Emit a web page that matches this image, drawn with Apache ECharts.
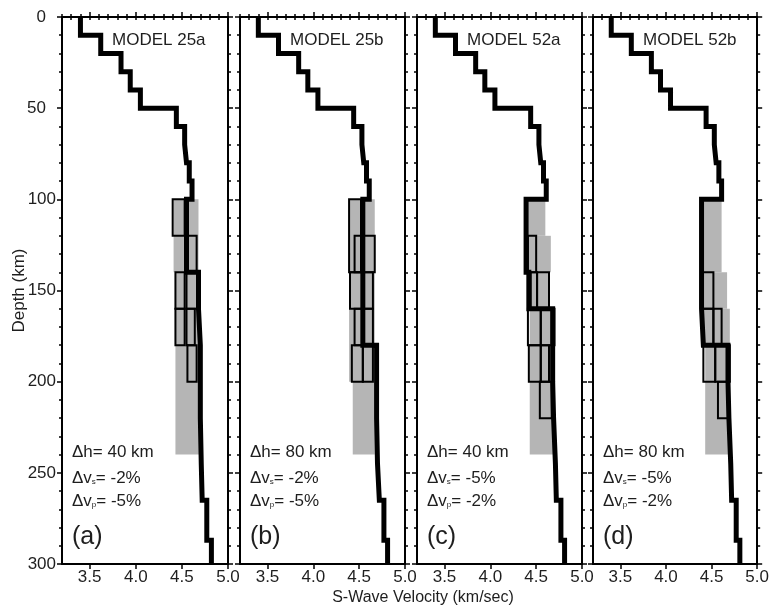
<!DOCTYPE html>
<html><head><meta charset="utf-8">
<script src="https://cdn.jsdelivr.net/npm/echarts@6/dist/echarts.min.js"></script>
<style>html,body{margin:0;padding:0;background:#fff}#c{width:772px;height:608px}</style>
</head><body><div id="c"></div>
<script>
// ---- data ----
const panelNames = ['MODEL 25a', 'MODEL 25b', 'MODEL 52a', 'MODEL 52b'];
const panelTags = ['(a)', '(b)', '(c)', '(d)'];
const dhText = ['40', '80', '40', '80'];
const dvsText = ['-2%', '-2%', '-5%', '-5%'];
const dvpText = ['-5%', '-5%', '-2%', '-2%'];
const xTickLabels = [3.5, 4.0, 4.5, 5.0];
// layer boundaries (km)
const layerDepths = [0, 10, 20, 30, 40, 50, 60, 70, 80, 90, 100, 120, 140, 160, 180, 200, 220, 245, 265, 287, 300];
// S velocity per layer (km/s)
const velA = [3.40, 3.62, 3.84, 3.94, 4.05, 4.44, 4.53, 4.55, 4.58, 4.61, 4.55, 4.55, 4.68, 4.70, 4.70, 4.70, 4.71, 4.72, 4.77, 4.82];
const velB = [3.40, 3.62, 3.84, 3.94, 4.05, 4.44, 4.53, 4.55, 4.58, 4.61, 4.54, 4.54, 4.54, 4.54, 4.69, 4.69, 4.70, 4.72, 4.77, 4.81];
const velC = [3.40, 3.62, 3.84, 3.94, 4.05, 4.44, 4.53, 4.55, 4.58, 4.61, 4.39, 4.39, 4.42, 4.68, 4.68, 4.69, 4.71, 4.72, 4.77, 4.81];
const velD = [3.40, 3.62, 3.84, 3.94, 4.05, 4.44, 4.53, 4.55, 4.58, 4.61, 4.39, 4.39, 4.39, 4.41, 4.68, 4.69, 4.71, 4.72, 4.77, 4.81];
// gray zones: [topDepth, bottomDepth, vMin, vMax]
const grayA = [[100, 140, 4.41, 4.68], [140, 160, 4.43, 4.68], [160, 240, 4.43, 4.70]];
const grayB = [[100, 200, 4.39, 4.67], [200, 240, 4.43, 4.67]];
const grayC = [[100, 120, 4.41, 4.60], [120, 140, 4.41, 4.66], [140, 160, 4.42, 4.64], [160, 240, 4.43, 4.69]];
const grayD = [[100, 140, 4.40, 4.61], [140, 160, 4.39, 4.67], [160, 180, 4.40, 4.70], [180, 240, 4.43, 4.68]];
// outlined blocks: [topDepth, bottomDepth, vMin, vMax]
const boxesA = [[100, 120, 4.40, 4.53], [120, 140, 4.56, 4.66], [140, 160, 4.43, 4.53], [140, 160, 4.55, 4.67],
                [160, 180, 4.43, 4.53], [160, 180, 4.55, 4.64], [180, 200, 4.56, 4.66]];
const boxesB = [[100, 140, 4.39, 4.52], [120, 140, 4.45, 4.67], [140, 160, 4.40, 4.65], [160, 180, 4.45, 4.65],
                [180, 200, 4.42, 4.54], [180, 200, 4.54, 4.65]];
const boxesC = [[120, 140, 4.41, 4.50], [140, 160, 4.44, 4.51], [140, 160, 4.51, 4.64], [160, 180, 4.41, 4.55],
                [160, 180, 4.55, 4.70], [180, 200, 4.42, 4.55], [180, 200, 4.55, 4.64], [200, 220, 4.54, 4.67]];
const boxesD = [[140, 160, 4.39, 4.52], [160, 180, 4.40, 4.52], [160, 180, 4.52, 4.61], [180, 200, 4.41, 4.54],
                [180, 200, 4.54, 4.70], [200, 220, 4.57, 4.68]];

const vels = [velA, velB, velC, velD];
const grays = [grayA, grayB, grayC, grayD];
const boxes = [boxesA, boxesB, boxesC, boxesD];

// ---- layout ----
const gridLefts = [62, 240, 417, 593];
const gridWidths = [166, 165, 165, 167];
const gridTop = 17, gridHeight = 547;
const FONT = '"Liberation Sans", Arial, sans-serif';
const TXT = '#1e1e1e';

function stepPoints(vel) {
  const pts = [];
  for (let i = 0; i < vel.length; i++) {
    pts.push([vel[i], layerDepths[i]]);
    pts.push([vel[i], layerDepths[i + 1]]);
  }
  return pts;
}

function rectRenderer(fill, stroke, lw) {
  return function (params, api) {
    const p0 = api.coord([api.value(2), api.value(0)]);
    const p1 = api.coord([api.value(3), api.value(1)]);
    return {
      type: 'rect',
      shape: { x: p0[0], y: p0[1], width: p1[0] - p0[0], height: p1[1] - p0[1] },
      style: { fill: fill, stroke: stroke, lineWidth: lw }
    };
  };
}

const grid = [], xAxis = [], yAxis = [], series = [], graphic = [];
const axLine = { show: true, onZero: false, lineStyle: { color: '#000', width: 2 } };

for (let p = 0; p < 4; p++) {
  grid.push({ left: gridLefts[p], width: gridWidths[p], top: gridTop, height: gridHeight });
  const xb = xAxis.length;
  // bottom major
  xAxis.push({
    type: 'value', gridIndex: p, position: 'bottom', min: 3.2, max: 5.0,
    axisLine: axLine,
    axisTick: { show: true, customValues: xTickLabels, length: 5, lineStyle: { color: '#000', width: 1.5 } },
    axisLabel: { show: true, customValues: xTickLabels, formatter: v => v.toFixed(1), fontSize: 17, fontFamily: FONT, color: TXT, margin: 5 },
    splitLine: { show: false }
  });
  // bottom minor
  xAxis.push({
    type: 'value', gridIndex: p, position: 'bottom', min: 3.2, max: 5.0, interval: 0.1,
    axisLine: { show: false }, axisTick: { show: true, length: 3, lineStyle: { color: '#000', width: 1.5 } },
    axisLabel: { show: false }, splitLine: { show: false }
  });
  // top major
  xAxis.push({
    type: 'value', gridIndex: p, position: 'top', min: 3.2, max: 5.0,
    axisLine: axLine,
    axisTick: { show: true, customValues: xTickLabels, length: 5, lineStyle: { color: '#000', width: 1.5 } },
    axisLabel: { show: false }, splitLine: { show: false }
  });
  // top minor
  xAxis.push({
    type: 'value', gridIndex: p, position: 'top', min: 3.2, max: 5.0, interval: 0.1,
    axisLine: { show: false }, axisTick: { show: true, length: 3, lineStyle: { color: '#000', width: 1.5 } },
    axisLabel: { show: false }, splitLine: { show: false }
  });
  const yb = yAxis.length;
  const yCommon = {
    type: 'value', gridIndex: p, min: 0, max: 300, interval: 50, inverse: true,
    axisLine: axLine,
    axisTick: { show: true, length: 5, lineStyle: { color: '#000', width: 1.5 } },
    minorTick: { show: true, splitNumber: 5, length: 3, lineStyle: { color: '#000', width: 1.5 } },
    splitLine: { show: false }, minorSplitLine: { show: false }
  };
  yAxis.push(Object.assign({}, yCommon, {
    position: 'left',
    axisLabel: p === 0 ? {
      show: true, fontSize: 17, fontFamily: FONT, color: TXT, margin: 6,
      formatter: v => v < 100 ? '{n|' + v + '}' : String(v),
      rich: { n: { fontSize: 17, fontFamily: FONT, color: TXT, padding: [0, 10, 0, 0] } }
    } : { show: false },
    name: p === 0 ? 'Depth (km)' : '', nameLocation: 'middle', nameGap: 34, nameMoveOverlap: false,
    nameTextStyle: { fontSize: 17, fontFamily: FONT, color: TXT }
  }));
  yAxis.push(Object.assign({}, yCommon, { position: 'right', axisLabel: { show: false } }));

  series.push({
    type: 'custom', xAxisIndex: xb, yAxisIndex: yb, z: 1,
    encode: { x: [2, 3], y: [0, 1] },
    renderItem: rectRenderer('#b5b5b5', null, 0),
    data: grays[p], silent: true
  });
  series.push({
    type: 'line', xAxisIndex: xb, yAxisIndex: yb, z: 3,
    data: stepPoints(vels[p]), showSymbol: false, symbol: 'none',
    lineStyle: { color: '#000', width: 5, join: 'miter', cap: 'butt' },
    animation: false, silent: true
  });
  series.push({
    type: 'custom', xAxisIndex: xb, yAxisIndex: yb, z: 4,
    encode: { x: [2, 3], y: [0, 1] },
    renderItem: rectRenderer('none', '#000', 2),
    data: boxes[p], silent: true
  });

  const L = gridLefts[p];
  graphic.push({ type: 'text', x: L + 50, y: 32, style: { text: panelNames[p], font: '17px ' + FONT, fill: TXT } });
  graphic.push({ type: 'text', x: L + 10, y: 444, style: { text: 'Δh= ' + dhText[p] + ' km', font: '17px ' + FONT, fill: TXT } });
  graphic.push({ type: 'text', x: L + 10, y: 465, style: {
    text: '{m|Δv}{s|s}{m|= ' + dvsText[p] + '}',
    rich: { m: { fontSize: 17, fontFamily: FONT, fill: TXT, color: TXT, lineHeight: 22, verticalAlign: 'bottom' },
            s: { fontSize: 8, fontFamily: FONT, fill: TXT, color: TXT, lineHeight: 22, verticalAlign: 'bottom', padding: [0, 0, 1, 0] } } } });
  graphic.push({ type: 'text', x: L + 10, y: 488, style: {
    text: '{m|Δv}{s|p}{m|= ' + dvpText[p] + '}',
    rich: { m: { fontSize: 17, fontFamily: FONT, fill: TXT, color: TXT, lineHeight: 22, verticalAlign: 'bottom' },
            s: { fontSize: 8, fontFamily: FONT, fill: TXT, color: TXT, lineHeight: 22, verticalAlign: 'bottom', padding: [0, 0, 1, 0] } } } });
  graphic.push({ type: 'text', x: L + 10, y: 525, style: { text: panelTags[p], font: '25px ' + FONT, fill: TXT } });
}
graphic.push({ type: 'text', x: 423, y: 598, style: { text: 'S-Wave Velocity (km/sec)', font: '16px ' + FONT, fill: TXT, align: 'center', verticalAlign: 'middle' } });

const chart = echarts.init(document.getElementById('c'), null, { renderer: 'canvas' });
chart.setOption({ animation: false, backgroundColor: '#fff', grid, xAxis, yAxis, series, graphic });
</script></body></html>
